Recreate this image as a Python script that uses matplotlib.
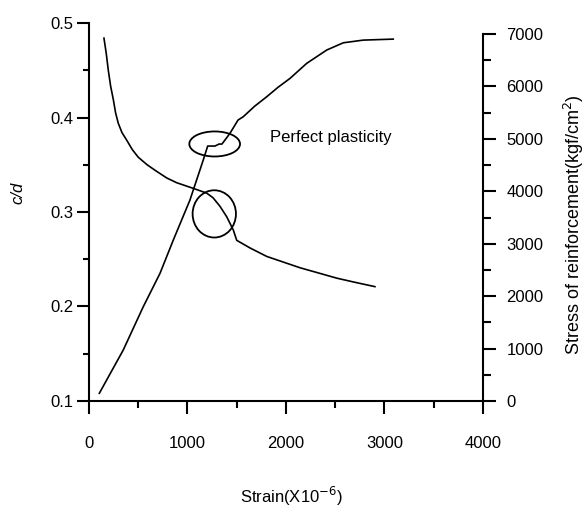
import numpy as np
import matplotlib
matplotlib.use("Agg")
import matplotlib.pyplot as plt
from matplotlib.patches import Ellipse
from matplotlib.ticker import MultipleLocator

plt.rcParams['font.family'] = ['Liberation Sans', 'DejaVu Sans']
plt.rcParams['font.size'] = 12

# c/d vs strain (left axis)
cd_strain = [152, 175, 196, 220, 247, 270, 297, 335, 383, 440, 500, 590, 687, 790, 890,
             1059, 1195, 1260, 1330, 1398, 1465, 1500, 1634, 1804, 1973, 2142, 2312,
             2515, 2683, 2903]
cd_value = [0.484, 0.468, 0.450, 0.433, 0.419, 0.405, 0.394, 0.384, 0.376, 0.366,
            0.358, 0.350, 0.343, 0.336, 0.331, 0.325, 0.320, 0.315, 0.306, 0.295,
            0.281, 0.270, 0.262, 0.253, 0.247, 0.241, 0.236, 0.230, 0.226, 0.221]

# stress of reinforcement vs strain (right axis)
st_strain = [105, 348, 551, 721, 856, 1025, 1160, 1205, 1279, 1320, 1350, 1431,
             1513, 1566, 1680, 1804, 1920, 2041, 2210, 2413, 2582, 2785, 3089]
st_value = [147, 973, 1798, 2435, 3070, 3833, 4596, 4863, 4863, 4901, 4901, 5105,
            5359, 5422, 5620, 5803, 5985, 6154, 6440, 6694, 6833, 6884, 6903]

# highlighted regions (center strain, center c/d, width, height)
ell_x = [1276, 1272]
ell_y = [0.372, 0.298]
ell_w = [515, 440]
ell_h = [0.0265, 0.050]

fig = plt.figure(figsize=(5.87, 5.07), dpi=100)
ax = fig.add_axes([0.1516, 0.2091, 0.6712, 0.7455])
ax2 = ax.twinx()

ax.plot(cd_strain, cd_value, color='black', lw=1.2)
ax2.plot(st_strain, st_value, color='black', lw=1.2)

for cx, cy, w, h in zip(ell_x, ell_y, ell_w, ell_h):
    ax.add_patch(Ellipse((cx, cy), w, h, fill=False, edgecolor='black', lw=1.3))

ax.text(1837, 0.379, "Perfect plasticity", fontsize=12, va='center', ha='left')

ax.set_xlim(0, 4000)
ax.set_ylim(0.1, 0.5)
ax2.set_ylim(0, 7210)

ax.xaxis.set_major_locator(MultipleLocator(1000))
ax.xaxis.set_minor_locator(MultipleLocator(500))
ax.set_yticks([0.1, 0.2, 0.3, 0.4, 0.5])
ax.set_yticklabels(['0.1', '0.2', '0.3', '0.4', '0.5'])
ax.yaxis.set_minor_locator(MultipleLocator(0.05))
ax2.set_yticks([0, 1000, 2000, 3000, 4000, 5000, 6000, 7000])
ax2.set_yticks(np.arange(500, 7000, 1000), minor=True)

for a in (ax, ax2):
    a.spines['top'].set_visible(False)
    for s in a.spines.values():
        s.set_linewidth(1.5)

ax.spines['right'].set_visible(False)
ax2.spines['left'].set_visible(False)
ax2.spines['bottom'].set_visible(False)
ax2.spines['right'].set_bounds(0, 7000)

ax.tick_params(axis='x', which='major', direction='out', length=9, width=1.5, pad=16)
ax.tick_params(axis='x', which='minor', direction='out', length=5, width=1.5)
ax.tick_params(axis='y', which='major', direction='out', length=9, width=1.5, pad=2)
ax.tick_params(axis='y', which='minor', direction='out', length=4, width=1.5)
ax2.tick_params(axis='y', which='major', direction='out', length=9, width=1.5, pad=8)
ax2.tick_params(axis='y', which='minor', direction='out', length=6, width=1.5)

ax.set_xlabel("Strain(X10$^{-6}$)", fontsize=12)
ax.xaxis.set_label_coords(0.514, -0.222)
ax.set_ylabel("c/d", fontsize=12, style='italic')
ax.yaxis.set_label_coords(-0.16, 0.55)
ax2.set_ylabel("Stress of reinforcement(kgf/cm$^2$)", fontsize=13)
ax2.yaxis.set_label_coords(1.2, 0.466)

fig.savefig("out.png", dpi=100)
